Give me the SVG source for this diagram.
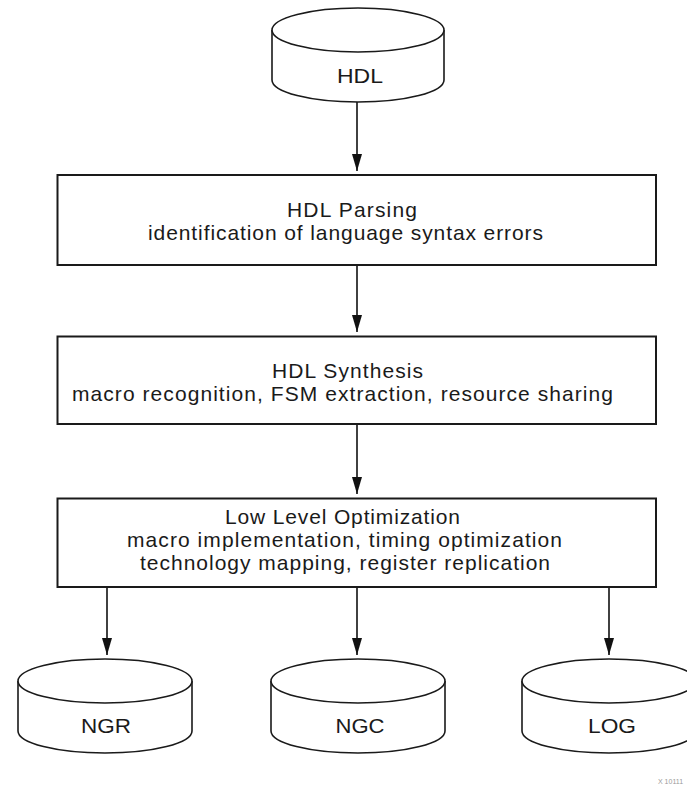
<svg xmlns="http://www.w3.org/2000/svg" width="687" height="785" viewBox="0 0 687 785">
  <defs>
    <style>
      .bg { fill: #ffffff; }
      .box { fill: #ffffff; stroke: #1a1a1a; stroke-width: 2; }
      .cyl { fill: #ffffff; stroke: #1a1a1a; stroke-width: 1.6; }
      .conn { fill: none; stroke: #111111; stroke-width: 1.6; marker-end: url(#arrow); }
      .t { font-family: "Liberation Sans", Arial, Helvetica, sans-serif; font-size: 21px; fill: #1a1a1a; }
      .wm { font-family: "Liberation Sans", Arial, sans-serif; font-size: 7px; fill: #9a9a9a; }
    </style>
    <marker id="arrow" markerUnits="userSpaceOnUse" markerWidth="18" markerHeight="11" refX="17" refY="5" orient="auto">
      <path d="M0,0 L17,5 L0,10 Z" fill="#111111"/>
    </marker>
  </defs>

  <rect class="bg" x="0" y="0" width="687" height="785"/>

  <g id="connectors">
    <line class="conn" x1="357" y1="102" x2="357" y2="171"/>
    <line class="conn" x1="357" y1="265" x2="357" y2="332"/>
    <line class="conn" x1="357" y1="424" x2="357" y2="494"/>
    <line class="conn" x1="107" y1="587" x2="107" y2="655"/>
    <line class="conn" x1="357" y1="587" x2="357" y2="655"/>
    <line class="conn" x1="609" y1="587" x2="609" y2="655"/>
  </g>

  <g id="node-hdl">
    <path class="cyl" d="M272,30 L272,80 A86,22 0 0 0 444,80 L444,30"/>
    <ellipse class="cyl" cx="358" cy="30" rx="86" ry="22"/>
    <text class="t" x="337" y="83" textLength="46" lengthAdjust="spacingAndGlyphs">HDL</text>
  </g>

  <g id="node-parsing">
    <rect class="box" x="57.5" y="175" width="598.5" height="90"/>
    <text class="t" x="287" y="216.5" textLength="130" lengthAdjust="spacing">HDL Parsing</text>
    <text class="t" x="148" y="239.5" textLength="395" lengthAdjust="spacing">identification of language syntax errors</text>
  </g>

  <g id="node-synthesis">
    <rect class="box" x="57.5" y="336.5" width="598.5" height="87.5"/>
    <text class="t" x="272" y="378" textLength="151" lengthAdjust="spacing">HDL Synthesis</text>
    <text class="t" x="72" y="401" textLength="541" lengthAdjust="spacing">macro recognition, FSM extraction, resource sharing</text>
  </g>

  <g id="node-lowlevel">
    <rect class="box" x="57.5" y="498.5" width="598.5" height="88.5"/>
    <text class="t" x="225" y="524" textLength="235" lengthAdjust="spacing">Low Level Optimization</text>
    <text class="t" x="127" y="547" textLength="435" lengthAdjust="spacing">macro implementation, timing optimization</text>
    <text class="t" x="140" y="570" textLength="410" lengthAdjust="spacing">technology mapping, register replication</text>
  </g>

  <g id="node-ngr">
    <path class="cyl" d="M18,681 L18,731 A87,22 0 0 0 192,731 L192,681"/>
    <ellipse class="cyl" cx="105" cy="681" rx="87" ry="22"/>
    <text class="t" x="81" y="733" textLength="50" lengthAdjust="spacingAndGlyphs">NGR</text>
  </g>

  <g id="node-ngc">
    <path class="cyl" d="M271,681 L271,731 A87,22 0 0 0 445,731 L445,681"/>
    <ellipse class="cyl" cx="358" cy="681" rx="87" ry="22"/>
    <text class="t" x="335.5" y="733" textLength="49" lengthAdjust="spacingAndGlyphs">NGC</text>
  </g>

  <g id="node-log">
    <path class="cyl" d="M522,681 L522,731 A87,22 0 0 0 696,731 L696,681"/>
    <ellipse class="cyl" cx="609" cy="681" rx="87" ry="22"/>
    <text class="t" x="588" y="733" textLength="48" lengthAdjust="spacingAndGlyphs">LOG</text>
  </g>

  <text class="wm" x="658" y="784">X 10111</text>
</svg>
